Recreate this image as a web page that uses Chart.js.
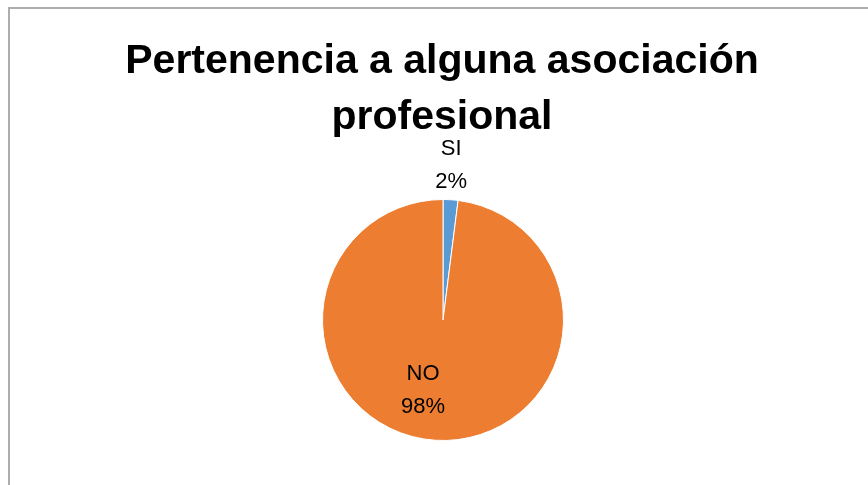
<!DOCTYPE html>
<html>
<head>
<meta charset="utf-8">
<script src="https://cdn.jsdelivr.net/npm/chart.js@4"></script>
<style>
  html, body { margin: 0; padding: 0; background: #fff; overflow: hidden; }
  #wrap { position: relative; width: 868px; height: 485px; }
  #frame { position: absolute; left: 8px; top: 7px; width: 900px; height: 600px; border: 2px solid #adadad; box-sizing: border-box; }
  canvas { position: absolute; left: 0; top: 0; }
</style>
</head>
<body>
<div id="wrap">
  <div id="frame"></div>
  <canvas id="chart" width="868" height="485"></canvas>
</div>
<script>
const categories = ['SI', 'NO'];
const values = [2, 98];
const percentLabels = ['2%', '98%'];
const sliceColors = ['#5B9BD5', '#ED7D31'];
const titleLines = ['Pertenencia a alguna asociación', 'profesional'];

// title drawn at top of canvas
const titlePlugin = {
  id: 'excelTitle',
  afterDraw(chart) {
    const ctx = chart.ctx;
    ctx.save();
    ctx.font = 'bold 41px "Liberation Sans", Arial, sans-serif';
    ctx.fillStyle = '#000';
    ctx.textAlign = 'center';
    ctx.textBaseline = 'middle';
    ctx.fillText(titleLines[0], 442, 62);
    ctx.fillText(titleLines[1], 442, 118);
    ctx.restore();
  }
};

// category + percent labels, positioned from the arc geometry
const labelPlugin = {
  id: 'sliceLabels',
  afterDatasetsDraw(chart) {
    const ctx = chart.ctx;
    const meta = chart.getDatasetMeta(0);
    const place = [
      { angle: -87, dist: 1.285 },
      { angle: 106, dist: 0.6 }
    ];
    ctx.save();
    ctx.font = '22px "Liberation Sans", Arial, sans-serif';
    ctx.fillStyle = '#000';
    ctx.textAlign = 'center';
    ctx.textBaseline = 'middle';
    meta.data.forEach((arc, i) => {
      const a = place[i].angle * Math.PI / 180;
      const r = arc.outerRadius * place[i].dist;
      const x = arc.x + Math.cos(a) * r;
      const y = arc.y + Math.sin(a) * r;
      ctx.fillText(categories[i], x, y - 16);
      ctx.fillText(percentLabels[i], x, y + 17);
    });
    ctx.restore();
  }
};

new Chart(document.getElementById('chart'), {
  type: 'pie',
  data: {
    labels: categories,
    datasets: [{
      data: values,
      backgroundColor: sliceColors,
      borderColor: '#ffffff',
      borderWidth: 1
    }]
  },
  options: {
    responsive: false,
    animation: false,
    layout: { padding: { top: 199, bottom: 44, left: 322, right: 304 } },
    plugins: {
      legend: { display: false },
      title: { display: false },
      tooltip: { enabled: false }
    }
  },
  plugins: [titlePlugin, labelPlugin]
});
</script>
</body>
</html>
